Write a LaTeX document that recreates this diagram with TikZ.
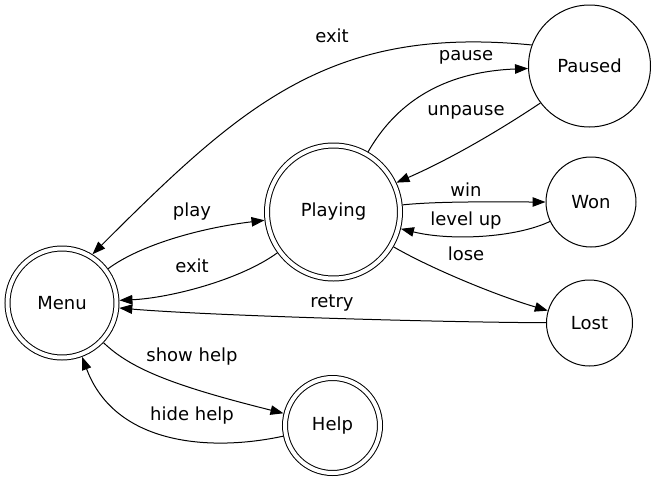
\documentclass[tikz,border=0pt]{standalone}
\usepackage{fontspec}
\setmainfont{DejaVu Sans}
\usetikzlibrary{arrows.meta}
\begin{document}
\begin{tikzpicture}[x=1pt,y=-1pt,
  every node/.style={font=\fontsize{18}{21}\selectfont},
  state/.style={draw, circle, line width=1pt, inner sep=0pt, outer sep=0.5pt},
  accept/.style={draw, circle, line width=1pt, double, double distance=4pt, inner sep=0pt, outer sep=3pt},
  edge/.style={line width=1pt, -{Triangle[length=13pt,width=9.5pt]}},
  lbl/.style={inner sep=0pt}]
\useasboundingbox (0,0) rectangle (657,480);
% states
\node[accept, minimum size=109pt] (Menu) at (62,303) {Menu};
\node[accept, minimum size=133pt] (Playing) at (333.5,212) {Playing};
\node[accept, minimum size=95pt] (Help) at (332.5,425.5) {Help};
\node[state, minimum size=122pt] (Paused) at (589.5,66) {Paused};
\node[state, minimum size=90pt] (Won) at (591,202) {Won};
\node[state, minimum size=86pt] (Lost) at (589.5,323) {Lost};
% transitions
\draw[edge] (Paused.160) .. controls (330,25) and (242,105) .. (Menu.58);
\draw[edge] (Playing) .. controls (395,105) and (440,72) .. (Paused);
\draw[edge] (Paused.217) .. controls (494,134) and (446,161) .. (Playing.25);
\draw[edge] (Playing) .. controls (440,201) and (500,202) .. (Won);
\draw[edge] (Won) .. controls (515,238) and (450,241) .. (Playing);
\draw[edge] (Playing) .. controls (430,268) and (495,295) .. (Lost);
\draw[edge] (Lost) .. controls (420,322) and (200,315) .. (Menu);
\draw[edge] (Menu) .. controls (140,245) and (200,228) .. (Playing);
\draw[edge] (Playing) .. controls (240,280) and (170,298) .. (Menu);
\draw[edge] (Menu) .. controls (130,368) and (170,385) .. (Help);
\draw[edge] (Help) .. controls (210,452) and (115,445) .. (Menu);
% labels
\node[lbl] (lexitp) at (332,36) {exit};
\node[lbl] (lpause) at (466,57) {pause};
\node[lbl] (lunpause) at (466,112) {unpause};
\node[lbl] (lwin) at (466,190) {win};
\node[lbl] (llevel) at (466,221) {level up};
\node[lbl] (llose) at (466,254) {lose};
\node[lbl] (lretry) at (332,303) {retry};
\node[lbl] (lplay) at (192,212) {play};
\node[lbl] (lexit) at (192,266) {exit};
\node[lbl] (lshow) at (192,357) {show help};
\node[lbl] (lhide) at (192,416) {hide help};
\end{tikzpicture}
\end{document}
